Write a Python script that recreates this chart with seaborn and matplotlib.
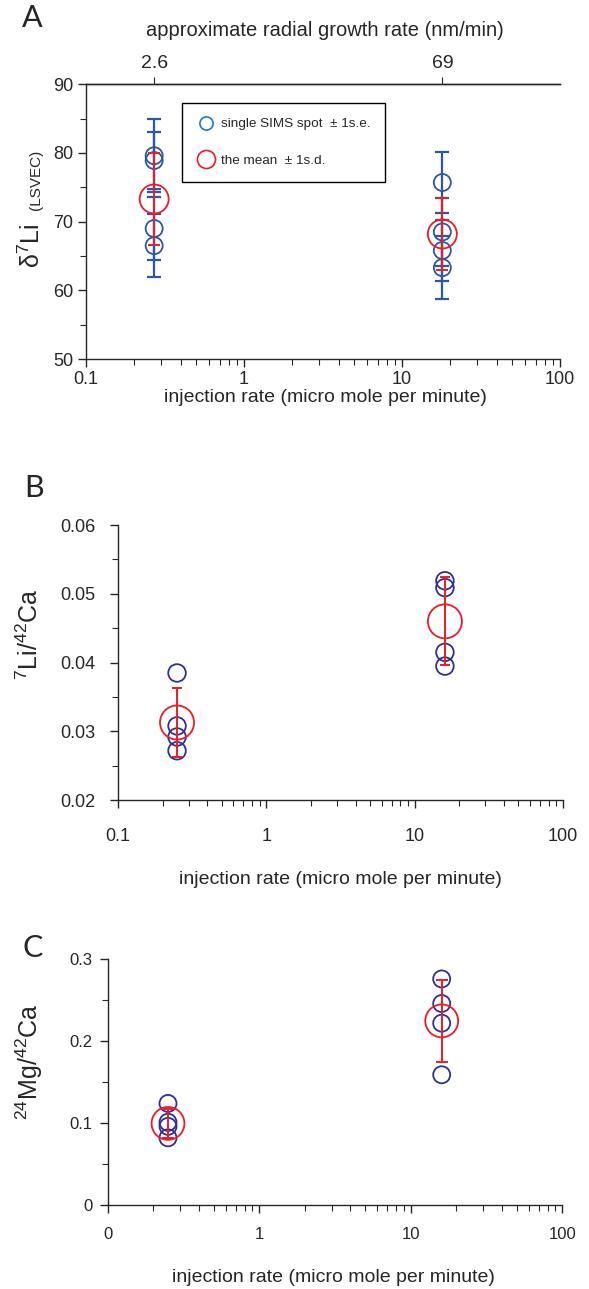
import numpy as np
import pandas as pd
import matplotlib
matplotlib.use('Agg')
import matplotlib.pyplot as plt
import seaborn as sns
from matplotlib.lines import Line2D
from matplotlib.ticker import FixedLocator, MultipleLocator, LogLocator, NullFormatter, FixedFormatter

# injection rates (micro mole per minute) of the two runs, as placed in each panel
rate_a = [0.27, 18]
rate = [0.25, 16]
growth_labels = ['2.6', '69']
x_ticks = [0.1, 1, 10, 100]

# panel A: d7Li of single SIMS spots (+- 1 s.e.) and mean of each run (+- 1 s.d.)
d7li_slow = [79.6, 78.9, 69.0, 66.5]
d7li_slow_se = [5.3, 4.1, 4.6, 4.6]
d7li_fast = [75.7, 68.5, 65.8, 63.3]
d7li_fast_se = [4.4, 4.9, 4.4, 4.6]
d7li_mean = [73.3, 68.2]
d7li_sd = [6.7, 5.2]

# panel B: 7Li/42Ca
lica_slow = [0.0385, 0.0308, 0.0292, 0.0272]
lica_fast = [0.0519, 0.0509, 0.0415, 0.0395]
lica_mean = [0.0313, 0.0460]
lica_sd = [0.0050, 0.0064]

# panel C: 24Mg/42Ca
mgca_slow = [0.124, 0.101, 0.096, 0.082]
mgca_fast = [0.276, 0.246, 0.222, 0.159]
mgca_mean = [0.0996, 0.2248]
mgca_sd = [0.018, 0.050]

BLUE_A = '#2b57a8'
BLUE = '#2e3192'
RED = '#ed1c24'
LEG_BLUE = '#1f78c8'

sns.set_style('ticks')
plt.rcParams['font.family'] = ['Liberation Sans', 'DejaVu Sans']
plt.rcParams['mathtext.default'] = 'regular'
plt.rcParams['axes.linewidth'] = 1.0


def spot_frame(x, slow, fast, se_slow=None, se_fast=None):
    df = pd.DataFrame({'rate': [x[0]] * len(slow) + [x[1]] * len(fast),
                       'value': slow + fast})
    if se_slow is not None:
        df['se'] = se_slow + se_fast
    return df


def mean_frame(x, mean, sd):
    return pd.DataFrame({'rate': x, 'mean': mean, 'sd': sd})


def draw(ax, spots, means, blue, s_small, s_big, cap_blue, cap_red):
    if 'se' in spots:
        ax.errorbar(spots['rate'], spots['value'], yerr=spots['se'], fmt='none',
                    ecolor=blue, elinewidth=1.6, capsize=cap_blue, capthick=1.6, zorder=2)
    sns.scatterplot(data=spots, x='rate', y='value', ax=ax, s=s_small, facecolor='none',
                    edgecolor=blue, linewidth=1.3, zorder=3, legend=False)
    sns.scatterplot(data=means, x='rate', y='mean', ax=ax, s=s_big, facecolor='none',
                    edgecolor=RED, linewidth=1.3, zorder=4, legend=False)
    ax.errorbar(means['rate'], means['mean'], yerr=means['sd'], fmt='none',
                ecolor=RED, elinewidth=1.4, capsize=cap_red, capthick=1.4, zorder=5)


def style_x(ax, labels, pad, size):
    ax.set_xscale('log')
    ax.set_xlim(0.1, 100)
    ax.xaxis.set_major_locator(FixedLocator(x_ticks))
    ax.xaxis.set_major_formatter(FixedFormatter(labels))
    ax.xaxis.set_minor_locator(LogLocator(base=10, subs=np.arange(2, 10)))
    ax.xaxis.set_minor_formatter(NullFormatter())
    ax.tick_params(axis='x', which='major', length=6, width=1, pad=pad, labelsize=size)
    ax.tick_params(axis='x', which='minor', length=4, width=0.8)
    ax.set_xlabel('')


fig = plt.figure(figsize=(5.89, 12.89), dpi=100)
W, H = 589, 1289


def px_axes(l, t, r, b):
    return fig.add_axes([l / W, 1 - b / H, (r - l) / W, (b - t) / H])


# ---- panel A
axA = px_axes(86, 84.3, 560, 359)
draw(axA, spot_frame(rate_a, d7li_slow, d7li_fast, d7li_slow_se, d7li_fast_se),
     mean_frame(rate_a, d7li_mean, d7li_sd), BLUE_A, 150, 436, 4.7, 4.3)
style_x(axA, ['0.1', '1', '10', '100'], 3, 13)
axA.set_ylim(50, 90)
axA.yaxis.set_major_locator(MultipleLocator(10))
axA.yaxis.set_minor_locator(MultipleLocator(5))
axA.tick_params(axis='y', which='major', length=6, width=1, pad=3, labelsize=13)
axA.tick_params(axis='y', which='minor', length=4, width=0.8)
axA.set_ylabel('')
sns.despine(ax=axA, top=False, right=True)

secA = axA.secondary_xaxis('top')
secA.set_xticks(rate_a, growth_labels)
secA.xaxis.set_minor_locator(FixedLocator([]))
secA.tick_params(axis='x', length=5, width=0.8, pad=4, labelsize=14)

fig.text(325 / W, 1 - 30 / H, 'approximate radial growth rate (nm/min)',
         ha='center', va='center', fontsize=14.5)
fig.text(325 / W, 1 - 397 / H, 'injection rate (micro mole per minute)',
         ha='center', va='center', fontsize=14)
fig.text(40 / W, 1 - 268 / H, 'δ$^{7}$Li', rotation=90, rotation_mode='anchor',
         ha='left', va='baseline', fontsize=18)
fig.text(40 / W, 1 - 210 / H, '(LSVEC)', rotation=90, rotation_mode='anchor',
         ha='left', va='baseline', fontsize=11)

handles = [Line2D([], [], ls='none', marker='o', ms=9.5, mfc='none', mec=LEG_BLUE, mew=1.2),
           Line2D([], [], ls='none', marker='o', ms=13, mfc='none', mec=RED, mew=1.2)]
leg = axA.legend(handles, ['single SIMS spot  ± 1s.e.', 'the mean  ± 1s.d.'],
                 loc='upper left', bbox_to_anchor=(182 / W, 1 - 103 / H),
                 bbox_transform=fig.transFigure, borderaxespad=0, fontsize=9.7,
                 frameon=True, fancybox=False, edgecolor='black', framealpha=1,
                 borderpad=1.1, labelspacing=1.8, handlelength=1.3, handletextpad=0.5)
leg.get_frame().set_linewidth(1.0)

# ---- panel B
axB = px_axes(118, 525, 563, 800.3)
draw(axB, spot_frame(rate, lica_slow, lica_fast), mean_frame(rate, lica_mean, lica_sd),
     BLUE, 160, 600, 4.5, 3.3)
style_x(axB, ['0.1', '1', '10', '100'], 14, 13)
axB.set_ylim(0.02, 0.06)
axB.yaxis.set_major_locator(FixedLocator([0.02, 0.03, 0.04, 0.05, 0.06]))
axB.yaxis.set_major_formatter(FixedFormatter(['0.02', '0.03', '0.04', '0.05', '0.06']))
axB.yaxis.set_minor_locator(MultipleLocator(0.005))
axB.tick_params(axis='y', which='major', length=6, width=1, pad=10, labelsize=13)
axB.tick_params(axis='y', which='minor', length=4, width=0.8)
axB.set_ylabel('')
sns.despine(ax=axB)
fig.text(340 / W, 1 - 880 / H, 'injection rate (micro mole per minute)',
         ha='center', va='center', fontsize=14)
fig.text(38 / W, 1 - 634 / H, '$^{7}$Li/$^{42}$Ca', rotation=90, rotation_mode='anchor',
         ha='center', va='baseline', fontsize=18)

# ---- panel C
axC = px_axes(107.7, 959.3, 562.3, 1205)
draw(axC, spot_frame(rate, mgca_slow, mgca_fast), mean_frame(rate, mgca_mean, mgca_sd),
     BLUE, 150, 560, 4.5, 4.3)
style_x(axC, ['0', '1', '10', '100'], 10, 12)
axC.set_ylim(0, 0.3)
axC.yaxis.set_major_locator(FixedLocator([0, 0.1, 0.2, 0.3]))
axC.yaxis.set_major_formatter(FixedFormatter(['0', '0.1', '0.2', '0.3']))
axC.yaxis.set_minor_locator(MultipleLocator(0.05))
axC.tick_params(axis='y', which='major', length=6, width=1, pad=5, labelsize=12)
axC.tick_params(axis='y', which='minor', length=4, width=0.8)
axC.set_ylabel('')
sns.despine(ax=axC)
fig.text(333 / W, 1 - 1278 / H, 'injection rate (micro mole per minute)',
         ha='center', va='center', fontsize=14)
fig.text(38 / W, 1 - 1062 / H, '$^{24}$Mg/$^{42}$Ca', rotation=90, rotation_mode='anchor',
         ha='center', va='baseline', fontsize=18)

# panel letters
for letter, x, y in [('A', 22, 18), ('B', 24, 488), ('C', 22, 948)]:
    fig.text(x / W, 1 - y / H, letter, ha='left', va='center', fontsize=22,
             family=['Lato', 'DejaVu Sans'])

fig.savefig('out.png', dpi=100)
